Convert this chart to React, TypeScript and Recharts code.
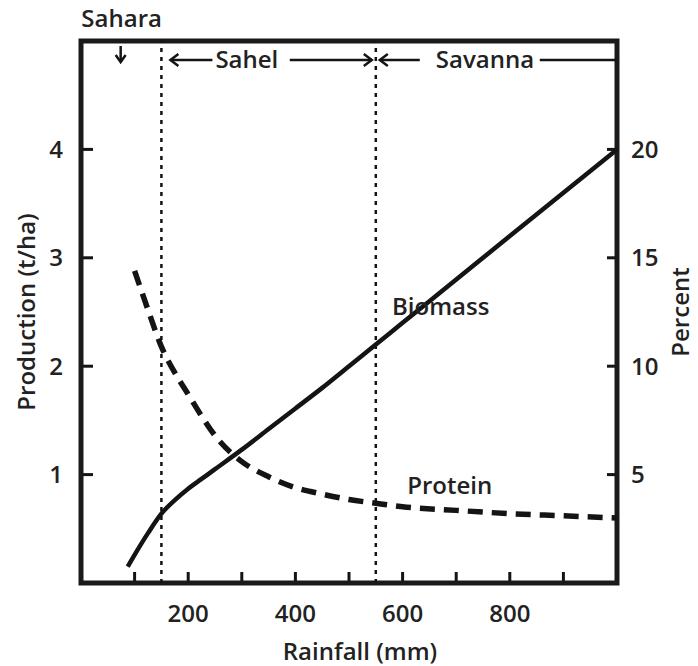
import React from 'react';
import { ComposedChart, Line, XAxis, YAxis, ReferenceLine, ReferenceArea, ReferenceDot, Label } from 'recharts';

const rainfall = [87, 100, 125, 150, 175, 200, 225, 250, 300, 350, 400, 450, 500, 550, 600, 700, 800, 900, 1000];
const biomass = [0.15, 0.26, 0.46, 0.64, 0.765, 0.87, 0.96, 1.05, 1.23, 1.42, 1.61, 1.80, 2.00, 2.20, 2.40, 2.80, 3.20, 3.60, 4.00];
const protein = [null, 14.4, 12.6, 10.9, 9.7, 8.7, 7.7, 6.8, 5.6, 4.9, 4.4, 4.1, 3.85, 3.68, 3.52, 3.35, 3.2, 3.1, 3.0];

const xTicks = [100, 200, 300, 400, 500, 600, 700, 800, 900];
const xLabelled = [200, 400, 600, 800];
const leftTicks = [1, 2, 3, 4];
const rightTicks = [5, 10, 15, 20];
const zoneBounds = [150, 550];

const data = rainfall.map((r, i) => ({ rain: r, biomass: biomass[i], protein: protein[i] }));

const W = 698;
const H = 666;
const TOP = 41;
const LEFT_W = 81;
const RIGHT_W = 81;
const BOTTOM_H = 83;
const PLOT_RIGHT = W - RIGHT_W;

const FONT = '"Open Sans", "Noto Sans", sans-serif';
const TXT = '#222';
const INK = '#141414';

const textStyle = { fontFamily: FONT, fontWeight: 600, fontSize: 24, fill: TXT } as const;

const XTick = (props: any) => {
  const { x, y, payload } = props;
  const v = payload.value;
  return (
    <g>
      <line x1={x} x2={x} y1={y - 2} y2={y - 11} stroke={INK} strokeWidth={3} />
      {xLabelled.includes(v) && (
        <text x={x} y={y + 39} textAnchor="middle" style={textStyle}>{v}</text>
      )}
    </g>
  );
};

const LTick = (props: any) => {
  const { x, y, payload } = props;
  return (
    <g>
      <line x1={x + 2} x2={x + 12} y1={y} y2={y} stroke={INK} strokeWidth={3} />
      <text x={x - 18} y={y} dy="0.36em" textAnchor="end" style={textStyle}>{payload.value}</text>
    </g>
  );
};

const RTick = (props: any) => {
  const { x, y, payload } = props;
  return (
    <g>
      <line x1={x - 2} x2={x - 10} y1={y} y2={y} stroke={INK} strokeWidth={3} />
      <text x={x + 14} y={y} dy="0.36em" textAnchor="start" style={textStyle}>{payload.value}</text>
    </g>
  );
};

const arrowY = TOP + 19;

const hArrow = (x1: number, x2: number, headAt: 'left' | 'right', key: string) => {
  const hx = headAt === 'left' ? Math.min(x1, x2) : Math.max(x1, x2);
  const d = headAt === 'left' ? 8 : -8;
  return (
    <g key={key} stroke={INK} strokeWidth={2.5} fill="none">
      <line x1={x1} x2={x2} y1={arrowY} y2={arrowY} />
      <polyline points={`${hx + d},${arrowY - 6} ${hx},${arrowY} ${hx + d},${arrowY + 6}`} />
    </g>
  );
};

const SaharaLabel = (props: any) => {
  const x = props.viewBox.x;
  return (
    <g>
      <text x={x + 1} y={TOP - 14} textAnchor="middle" style={textStyle}>Sahara</text>
      <g stroke={INK} strokeWidth={2.5} fill="none">
        <line x1={x} x2={x} y1={TOP + 5} y2={TOP + 21} />
        <polyline points={`${x - 5},${TOP + 14} ${x},${TOP + 21} ${x + 5},${TOP + 14}`} />
      </g>
    </g>
  );
};

const SahelLabel = (props: any) => {
  const x = props.viewBox.x;
  return (
    <g>
      {hArrow(x + 9, x + 51, 'left', 'a')}
      <text x={x + 54} y={arrowY + 8} textAnchor="start" style={textStyle}>Sahel</text>
    </g>
  );
};

const SavannaLabel = (props: any) => {
  const x = props.viewBox.x;
  return (
    <g>
      {hArrow(x - 86, x - 4, 'right', 'b')}
      {hArrow(x + 4, x + 44, 'left', 'c')}
      <text x={x + 60} y={arrowY + 8} textAnchor="start" style={textStyle}>Savanna</text>
      <line x1={x + 164} x2={PLOT_RIGHT} y1={arrowY} y2={arrowY} stroke={INK} strokeWidth={2.5} />
    </g>
  );
};

const seriesLabel = (text: string) => (props: any) => {
  const { cx, cy } = props.viewBox;
  const vx = props.viewBox.x !== undefined ? props.viewBox.x + (props.viewBox.width || 0) / 2 : cx;
  const vy = props.viewBox.y !== undefined ? props.viewBox.y + (props.viewBox.height || 0) / 2 : cy;
  return (
    <text x={vx} y={vy} dy="0.36em" textAnchor="middle" style={textStyle}>{text}</text>
  );
};

export default function App() {
  return (
    <div style={{ position: 'absolute', left: 0, top: 0, background: '#fff' }}>
      <ComposedChart width={W} height={H} data={data} margin={{ top: TOP, right: 0, bottom: 0, left: 0 }}>
        <XAxis
          dataKey="rain"
          type="number"
          domain={[0, 1000]}
          ticks={xTicks}
          interval={0}
          height={BOTTOM_H}
          axisLine={false}
          tickLine={false}
          tickSize={0}
          tickMargin={0}
          tick={<XTick />}
        >
          <Label
            content={(p: any) => (
              <text x={p.viewBox.x + p.viewBox.width / 2 + 11} y={p.viewBox.y + 77} textAnchor="middle" style={textStyle}>
                Rainfall (mm)
              </text>
            )}
          />
        </XAxis>
        <YAxis
          yAxisId="left"
          orientation="left"
          type="number"
          domain={[0, 5]}
          ticks={leftTicks}
          interval={0}
          width={LEFT_W}
          axisLine={false}
          tickLine={false}
          tickSize={0}
          tickMargin={0}
          tick={<LTick />}
        >
          <Label
            content={(p: any) => {
              const cy = p.viewBox.y + p.viewBox.height / 2;
              return (
                <text x={26} y={cy} dy="0.36em" textAnchor="middle" transform={`rotate(-90, 26, ${cy})`} style={textStyle}>
                  Production (t/ha)
                </text>
              );
            }}
          />
        </YAxis>
        <YAxis
          yAxisId="right"
          orientation="right"
          type="number"
          domain={[0, 25]}
          ticks={rightTicks}
          interval={0}
          width={RIGHT_W}
          axisLine={false}
          tickLine={false}
          tickSize={0}
          tickMargin={0}
          tick={<RTick />}
        >
          <Label
            content={(p: any) => {
              const cy = p.viewBox.y + p.viewBox.height / 2;
              const cx = p.viewBox.x + 63;
              return (
                <text x={cx} y={cy} dy="0.36em" textAnchor="middle" transform={`rotate(-90, ${cx}, ${cy})`} style={textStyle}>
                  Percent
                </text>
              );
            }}
          />
        </YAxis>

        <ReferenceLine yAxisId="left" x={74} stroke="none" strokeOpacity={0} label={<SaharaLabel />} />
        <ReferenceLine yAxisId="left" x={zoneBounds[0]} stroke={INK} strokeWidth={2.5} strokeDasharray="4 5" label={<SahelLabel />} />
        <ReferenceLine yAxisId="left" x={zoneBounds[1]} stroke={INK} strokeWidth={2.5} strokeDasharray="4 5" label={<SavannaLabel />} />

        <Line
          yAxisId="left"
          dataKey="biomass"
          type="monotone"
          stroke={INK}
          strokeWidth={4.5}
          dot={false}
          connectNulls
          isAnimationActive={false}
        />
        <Line
          yAxisId="right"
          dataKey="protein"
          type="monotone"
          stroke={INK}
          strokeWidth={5.5}
          strokeDasharray="15 9"
          dot={false}
          connectNulls
          isAnimationActive={false}
        />

        <ReferenceDot yAxisId="left" x={671} y={2.55} r={0} fill="none" stroke="none" label={seriesLabel('Biomass')} />
        <ReferenceDot yAxisId="left" x={688} y={0.9} r={0} fill="none" stroke="none" label={seriesLabel('Protein')} />

        <ReferenceArea yAxisId="left" x1={0} x2={1000} y1={0} y2={5} fill="none" stroke="#1a1a1a" strokeWidth={5} ifOverflow="visible" />
      </ComposedChart>
    </div>
  );
}
